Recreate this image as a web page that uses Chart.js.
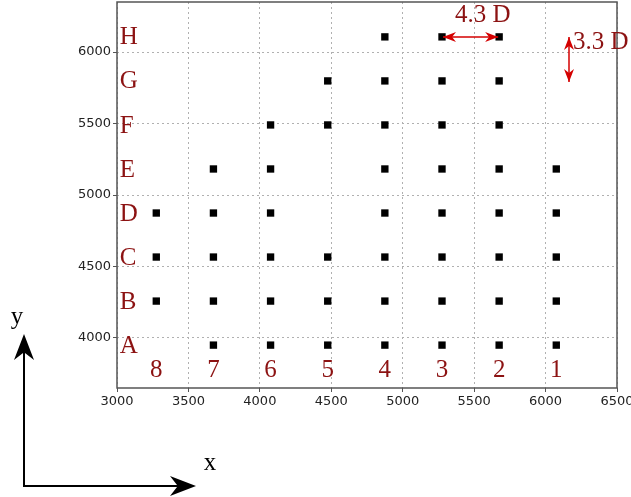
<!DOCTYPE html>
<html>
<head>
<meta charset="utf-8">
<script src="https://cdn.jsdelivr.net/npm/chart.js@4/dist/chart.umd.min.js"></script>
<style>
  html, body { margin: 0; padding: 0; background: #fff; }
  #wrap { width: 631px; height: 497px; }
</style>
</head>
<body>
<div id="wrap"><canvas id="grille"></canvas></div>
<script>
// ── Données : colonnes (8 → 1) et rangées (A → H) ──
const colNumbers = ['8', '7', '6', '5', '4', '3', '2', '1'];
const colX = [3275, 3675, 4075, 4475, 4875, 5275, 5675, 6075];
const rowLetters = ['A', 'B', 'C', 'D', 'E', 'F', 'G', 'H'];
const rowY = [3950, 4258, 4566, 4874, 5182, 5490, 5798, 6106];

// colonnes occupées pour chaque rangée (A → H)
const rowA = ['7', '6', '5', '4', '3', '2', '1'];
const rowB = ['8', '7', '6', '5', '4', '3', '2', '1'];
const rowC = ['8', '7', '6', '5', '4', '3', '2', '1'];
const rowD = ['8', '7', '6', '4', '3', '2', '1'];
const rowE = ['7', '6', '4', '3', '2', '1'];
const rowF = ['6', '5', '4', '3', '2'];
const rowG = ['5', '4', '3', '2'];
const rowH = ['4', '3', '2'];
const rowCols = [rowA, rowB, rowC, rowD, rowE, rowF, rowG, rowH];

const xTicks = [3000, 3500, 4000, 4500, 5000, 5500, 6000, 6500];
const yTicks = [4000, 4500, 5000, 5500, 6000];

// annotations d'espacement
const spacingLabels = ['4.3 D', '3.3 D'];

// ── Points ──
const points = [];
rowCols.forEach((cols, r) => {
  cols.forEach(c => {
    points.push({ x: colX[colNumbers.indexOf(c)], y: rowY[r] });
  });
});

const RED_TXT = '#8c1212';
const RED_ARW = '#d40000';
const SERIF = "'Liberation Serif', 'DejaVu Serif', serif";

// tête de flèche "stealth"
function head(ctx, tx, ty, ang, len, half, color) {
  const c = Math.cos(ang), s = Math.sin(ang);
  const bx = tx - c * len, by = ty - s * len;
  const nx = tx - c * len * 0.7, ny = ty - s * len * 0.7;
  ctx.beginPath();
  ctx.moveTo(tx, ty);
  ctx.lineTo(bx - s * half, by + c * half);
  ctx.lineTo(nx, ny);
  ctx.lineTo(bx + s * half, by - c * half);
  ctx.closePath();
  ctx.fillStyle = color;
  ctx.fill();
}

function doubleArrow(ctx, x1, y1, x2, y2, color) {
  const ang = Math.atan2(y2 - y1, x2 - x1);
  ctx.strokeStyle = color;
  ctx.lineWidth = 1.5;
  ctx.beginPath();
  ctx.moveTo(x1, y1);
  ctx.lineTo(x2, y2);
  ctx.stroke();
  head(ctx, x2, y2, ang, 13, 5, color);
  head(ctx, x1, y1, ang + Math.PI, 13, 5, color);
}

const decor = {
  id: 'decor',
  afterDraw(chart) {
    const { ctx, chartArea: a, scales: { x, y } } = chart;
    ctx.save();

    // cadre
    ctx.strokeStyle = '#555';
    ctx.lineWidth = 1.5;
    ctx.strokeRect(a.left, a.top, a.right - a.left, a.bottom - a.top);

    // lettres des rangées
    ctx.font = '25px ' + SERIF;
    ctx.fillStyle = RED_TXT;
    ctx.textBaseline = 'middle';
    ctx.textAlign = 'left';
    rowLetters.forEach((l, i) => ctx.fillText(l, x.getPixelForValue(3020), y.getPixelForValue(rowY[i]) + 1));

    // numéros des colonnes
    ctx.textAlign = 'center';
    colNumbers.forEach((n, i) => ctx.fillText(n, x.getPixelForValue(colX[i]), y.getPixelForValue(3783) + 1));

    // flèches d'espacement
    const yh = y.getPixelForValue(rowY[7]);
    doubleArrow(ctx, x.getPixelForValue(colX[5]) + 1, yh, x.getPixelForValue(colX[6]) - 1, yh, RED_ARW);
    const xv = x.getPixelForValue(6164);
    doubleArrow(ctx, xv, y.getPixelForValue(rowY[7]), xv, y.getPixelForValue(5790), RED_ARW);

    ctx.textAlign = 'left';
    ctx.fillStyle = RED_TXT;
    ctx.fillText(spacingLabels[0], x.getPixelForValue(5366), y.getPixelForValue(6266) + 1);
    ctx.fillText(spacingLabels[1], x.getPixelForValue(6192), y.getPixelForValue(6077) + 1);

    // repère x / y en bas à gauche
    ctx.strokeStyle = '#000';
    ctx.lineWidth = 2;
    ctx.beginPath();
    ctx.moveTo(24, 352);
    ctx.lineTo(24, 486);
    ctx.lineTo(180, 486);
    ctx.stroke();
    head(ctx, 24, 334, -Math.PI / 2, 26, 10, '#000');
    head(ctx, 196, 486, 0, 26, 10, '#000');
    ctx.fillStyle = '#000';
    ctx.font = '25px ' + SERIF;
    ctx.textAlign = 'center';
    ctx.fillText('y', 17, 317);
    ctx.fillText('x', 210, 463);

    ctx.restore();
  }
};

Chart.defaults.font.family = "'DejaVu Sans', sans-serif";
Chart.defaults.font.size = 13;
Chart.defaults.color = '#222';

new Chart(document.getElementById('grille').getContext('2d'), {
  type: 'scatter',
  data: {
    datasets: [{
      data: points,
      pointStyle: 'rect',
      pointRadius: 5.2,
      pointHoverRadius: 5.2,
      backgroundColor: '#000',
      borderColor: '#000',
      borderWidth: 0
    }]
  },
  options: {
    responsive: true,
    maintainAspectRatio: false,
    animation: false,
    events: [],
    layout: { autoPadding: false, padding: { top: 2, right: 14, bottom: 0, left: 0 } },
    plugins: { legend: { display: false }, tooltip: { enabled: false } },
    scales: {
      x: {
        type: 'linear',
        min: 3000,
        max: 6500,
        afterBuildTicks: s => { s.ticks = xTicks.map(v => ({ value: v })); },
        ticks: { padding: 2, maxRotation: 0, autoSkip: false, color: '#222', callback: v => String(v) },
        grid: { color: '#b0b0b0', tickLength: 4, tickColor: '#555' },
        border: { display: false, dash: [2, 3] },
        afterFit: s => { s.height = 109; s.paddingLeft = 0; s.paddingRight = 0; }
      },
      y: {
        type: 'linear',
        min: 3650,
        max: 6350,
        afterBuildTicks: s => { s.ticks = yTicks.map(v => ({ value: v })); },
        ticks: { padding: 2, autoSkip: false, color: '#222', callback: v => String(v) },
        grid: { color: '#b0b0b0', tickLength: 4, tickColor: '#555' },
        border: { display: false, dash: [2, 3] },
        afterFit: s => { s.width = 117; s.paddingTop = 0; s.paddingBottom = 0; }
      }
    }
  },
  plugins: [decor]
});
</script>
</body>
</html>
